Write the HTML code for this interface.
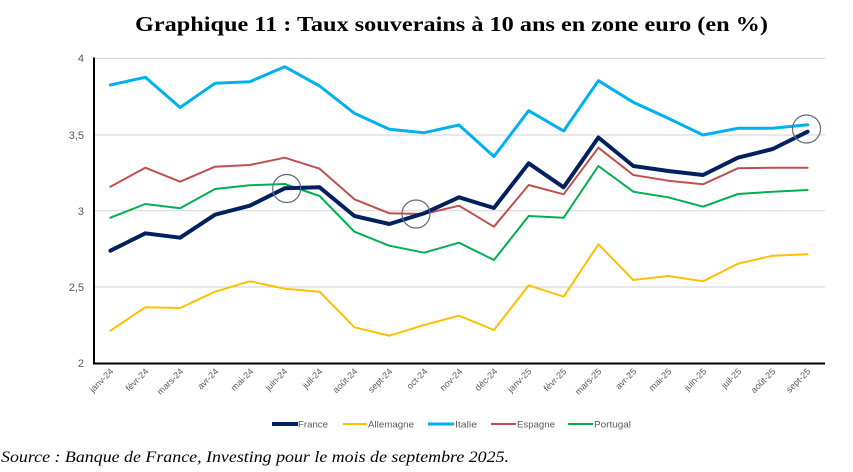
<!DOCTYPE html>
<html><head><meta charset="utf-8"><style>
html,body{margin:0;padding:0;background:#fff;}
svg{display:block;}
</style></head><body>
<svg width="853" height="472" viewBox="0 0 853 472" xmlns="http://www.w3.org/2000/svg">
<rect width="853" height="472" fill="#fff"/>
<text x="135" y="31" font-family="Liberation Serif, serif" font-weight="bold" font-size="21" textLength="633" lengthAdjust="spacingAndGlyphs" fill="#000">Graphique 11 : Taux souverains à 10 ans en zone euro (en %)</text>
<g stroke="#d9d9d9" stroke-width="1.2">
<line x1="94" y1="58.5" x2="825" y2="58.5"/>
<line x1="94" y1="135" x2="825" y2="135"/>
<line x1="94" y1="210.7" x2="825" y2="210.7"/>
<line x1="94" y1="287" x2="825" y2="287"/>
</g>
<g font-family="Liberation Sans, sans-serif" font-size="11" fill="#595959" text-anchor="end">
<text x="84" y="62">4</text>
<text x="84" y="139">3,5</text>
<text x="84" y="215">3</text>
<text x="84" y="291">2,5</text>
<text x="84" y="367">2</text>
</g>
<g fill="none" stroke-linejoin="round" stroke-linecap="round">
<polyline stroke="#FFC000" stroke-width="2" points="110.4,330.7 145.3,307.3 180.1,308 215,291.7 249.8,281.3 284.7,288.7 319.6,291.7 354.4,327.3 389.3,335.7 424.1,325 459,315.7 493.9,330 528.7,285.3 563.6,296.7 598.4,244.3 633.3,280 668.2,276 703,281.3 737.9,263.7 772.7,255.7 807.6,254.3"/>
<polyline stroke="#00B050" stroke-width="2" points="110.4,217.7 145.3,204 180.1,208.3 215,189 249.8,185.3 284.7,184 319.6,196 354.4,231.7 389.3,245.7 424.1,252.7 459,242.7 493.9,260 528.7,216 563.6,217.7 598.4,166 633.3,191.7 668.2,197.3 703,206.7 737.9,194 772.7,191.7 807.6,190"/>
<polyline stroke="#C0504D" stroke-width="2" points="110.4,186.7 145.3,167.7 180.1,181.7 215,166.7 249.8,165 284.7,157.7 319.6,168.7 354.4,199.3 389.3,213.3 424.1,214 459,205.7 493.9,226.7 528.7,185 563.6,194.3 598.4,147.7 633.3,175 668.2,180.7 703,184.3 737.9,168.3 772.7,167.7 807.6,167.7"/>
<polyline stroke="#00B0F0" stroke-width="3" points="110.4,85 145.3,77.3 180.1,107.5 215,83.3 249.8,81.7 284.7,66.7 319.6,86 354.4,113.3 389.3,129.3 424.1,132.7 459,125 493.9,156.5 528.7,110.7 563.6,131 598.4,80.7 633.3,102.3 668.2,118.3 703,135 737.9,128.3 772.7,128.3 807.6,124.7"/>
<polyline stroke="#002060" stroke-width="4" points="110.4,250.7 145.3,233.3 180.1,237.7 215,214.7 249.8,205.7 284.7,188.3 319.6,187.3 354.4,216 389.3,224 424.1,213.3 459,197.3 493.9,208 528.7,163.3 563.6,187.3 598.4,137.5 633.3,166 668.2,171 703,175 737.9,157.7 772.7,149 807.6,131.7"/>
</g>
<g fill="none" stroke="#5a6b80" stroke-width="1.2">
<circle cx="286.7" cy="188.5" r="14"/>
<circle cx="416" cy="214" r="14"/>
<circle cx="806.5" cy="129" r="14"/>
</g>
<line x1="94" y1="57.5" x2="94" y2="364" stroke="#000" stroke-width="2"/>
<line x1="93" y1="363.5" x2="825" y2="363.5" stroke="#000" stroke-width="2"/>
<g font-family="Liberation Sans, sans-serif" font-size="9" fill="#595959" text-anchor="end">
<text transform="translate(114,372) rotate(-45)">janv-24</text>
<text transform="translate(149,372) rotate(-45)">févr-24</text>
<text transform="translate(184,372) rotate(-45)">mars-24</text>
<text transform="translate(219,372) rotate(-45)">avr-24</text>
<text transform="translate(254,372) rotate(-45)">mai-24</text>
<text transform="translate(288,372) rotate(-45)">juin-24</text>
<text transform="translate(323,372) rotate(-45)">juil-24</text>
<text transform="translate(358,372) rotate(-45)">août-24</text>
<text transform="translate(393,372) rotate(-45)">sept-24</text>
<text transform="translate(428,372) rotate(-45)">oct-24</text>
<text transform="translate(463,372) rotate(-45)">nov-24</text>
<text transform="translate(498,372) rotate(-45)">déc-24</text>
<text transform="translate(532,372) rotate(-45)">janv-25</text>
<text transform="translate(567,372) rotate(-45)">févr-25</text>
<text transform="translate(602,372) rotate(-45)">mars-25</text>
<text transform="translate(637,372) rotate(-45)">avr-25</text>
<text transform="translate(672,372) rotate(-45)">mai-25</text>
<text transform="translate(707,372) rotate(-45)">juin-25</text>
<text transform="translate(742,372) rotate(-45)">juil-25</text>
<text transform="translate(776,372) rotate(-45)">août-25</text>
<text transform="translate(811,372) rotate(-45)">sept-25</text>
</g>
<g stroke-linecap="butt">
<line x1="272" y1="424" x2="298" y2="424" stroke="#002060" stroke-width="4"/>
<line x1="343" y1="424" x2="367" y2="424" stroke="#FFC000" stroke-width="2"/>
<line x1="428" y1="424" x2="454" y2="424" stroke="#00B0F0" stroke-width="3"/>
<line x1="491" y1="424" x2="516" y2="424" stroke="#C0504D" stroke-width="2"/>
<line x1="568" y1="424" x2="593" y2="424" stroke="#00B050" stroke-width="2"/>
</g>
<g font-family="Liberation Sans, sans-serif" font-size="9.5" fill="#595959">
<text x="298" y="427.5" textLength="30" lengthAdjust="spacingAndGlyphs">France</text>
<text x="368" y="427.5" textLength="46" lengthAdjust="spacingAndGlyphs">Allemagne</text>
<text x="455" y="427.5" textLength="22" lengthAdjust="spacingAndGlyphs">Italie</text>
<text x="517" y="427.5" textLength="38" lengthAdjust="spacingAndGlyphs">Espagne</text>
<text x="594" y="427.5" textLength="37" lengthAdjust="spacingAndGlyphs">Portugal</text>
</g>
<text x="1" y="462" font-family="Liberation Serif, serif" font-style="italic" font-size="16" textLength="508" lengthAdjust="spacingAndGlyphs" fill="#000">Source : Banque de France, Investing pour le mois de septembre 2025.</text>
</svg>
</body></html>
